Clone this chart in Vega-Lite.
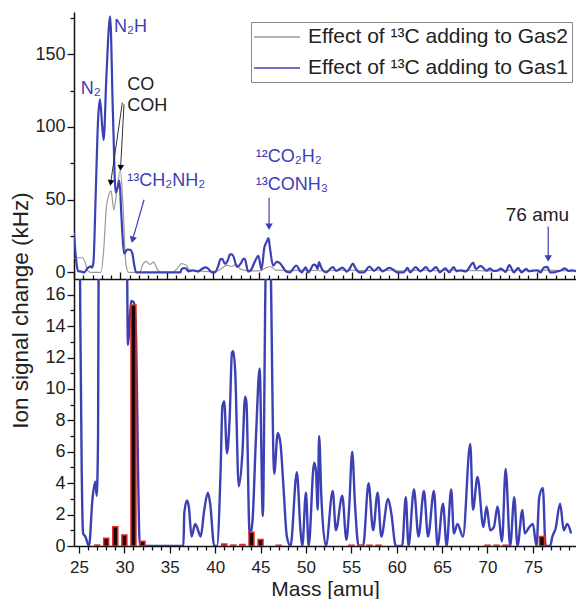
{
  "$schema": "https://vega.github.io/schema/vega-lite/v6.json",
  "padding": {"left": 9, "top": 12, "right": 0, "bottom": 0},
  "bounds": "flush",
  "spacing": 0,
  "datasets": {
    "gas1": [
      {"m":25,"v":27},{"m":25.15,"v":14},{"m":25.3,"v":4.8},{"m":25.45,"v":0.8},{"m":25.7,"v":0.6},{"m":26.1,"v":0},
      {"m":26.5,"v":3.1},{"m":26.8,"v":4.1},{"m":26.95,"v":3.2},{"m":27.1,"v":7},{"m":27.35,"v":55},{"m":27.6,"v":105},
      {"m":27.8,"v":119},{"m":28.05,"v":100},{"m":28.2,"v":91},{"m":28.5,"v":135},{"m":28.9,"v":176},{"m":29.2,"v":110},
      {"m":29.5,"v":55},{"m":29.7,"v":58},{"m":29.9,"v":63},{"m":30.15,"v":35},{"m":30.4,"v":12.8},{"m":30.55,"v":14},
      {"m":30.75,"v":15.6},{"m":31.05,"v":15.5},{"m":31.3,"v":13},{"m":31.5,"v":5},{"m":31.7,"v":0},{"m":36.5,"v":0},
      {"m":36.6,"v":2.1},{"m":36.9,"v":2.9},{"m":37.1,"v":2.5},{"m":37.4,"v":0.6},{"m":37.8,"v":1.4},{"m":38.0,"v":1.2},
      {"m":38.4,"v":0.6},{"m":38.8,"v":2.3},{"m":39.2,"v":3.4},{"m":39.45,"v":2.7},{"m":39.9,"v":0},{"m":40.2,"v":0},
      {"m":40.6,"v":4.8},{"m":40.8,"v":8.9},{"m":41.0,"v":9.2},{"m":41.3,"v":5.9},{"m":41.6,"v":8.2},{"m":41.85,"v":12.3},
      {"m":42.0,"v":12.4},{"m":42.2,"v":11.2},{"m":42.6,"v":3.8},{"m":43.0,"v":5.9},{"m":43.3,"v":9.5},{"m":43.45,"v":9.1},
      {"m":43.8,"v":0.6},{"m":44.1,"v":1.5},{"m":44.5,"v":7},{"m":44.9,"v":11.3},{"m":45.25,"v":1.9},{"m":45.55,"v":17},
      {"m":45.8,"v":21},{"m":46.0,"v":23.5},{"m":46.15,"v":17},{"m":46.5,"v":4.6},{"m":46.9,"v":7.2},{"m":47.2,"v":6.5},
      {"m":47.5,"v":4},{"m":47.9,"v":0.6},{"m":48.3,"v":0},{"m":49.0,"v":4.7},{"m":49.4,"v":1},{"m":49.6,"v":0},
      {"m":50.0,"v":3.4},{"m":50.3,"v":0},{"m":50.9,"v":5.3},{"m":51.1,"v":4.8},{"m":51.3,"v":2.3},{"m":51.45,"v":7},
      {"m":51.7,"v":3.1},{"m":52.2,"v":0},{"m":52.95,"v":3.5},{"m":53.3,"v":1},{"m":54.0,"v":3.2},{"m":54.46,"v":0.4},
      {"m":54.75,"v":2.3},{"m":55.1,"v":6},{"m":55.4,"v":2.7},{"m":55.8,"v":0},{"m":56.3,"v":0},{"m":56.9,"v":4},
      {"m":57.4,"v":1},{"m":57.9,"v":3.4},{"m":58.3,"v":0.6},{"m":59.05,"v":3},{"m":59.4,"v":2.1},{"m":59.9,"v":0},
      {"m":60.6,"v":0},{"m":61.0,"v":3.1},{"m":61.3,"v":0},{"m":61.9,"v":3.6},{"m":62.4,"v":0.6},{"m":63.0,"v":3.5},
      {"m":63.45,"v":0.6},{"m":64.1,"v":3.5},{"m":64.5,"v":0},{"m":65.1,"v":2.7},{"m":65.5,"v":0},{"m":66.0,"v":3.6},
      {"m":66.3,"v":0.8},{"m":66.7,"v":1.4},{"m":67.3,"v":0.6},{"m":68.1,"v":6.5},{"m":68.4,"v":2.3},{"m":68.9,"v":4.4},
      {"m":69.55,"v":1.2},{"m":69.9,"v":2.5},{"m":70.3,"v":1},{"m":70.7,"v":1.2},{"m":71.1,"v":2.5},{"m":71.6,"v":0.3},
      {"m":72.0,"v":4.9},{"m":72.5,"v":0},{"m":72.95,"v":3.1},{"m":73.3,"v":0},{"m":73.85,"v":2.3},{"m":74.1,"v":0.8},
      {"m":74.6,"v":1.2},{"m":75.0,"v":1.4},{"m":75.4,"v":0},{"m":75.7,"v":3.1},{"m":76.1,"v":3.7},{"m":76.4,"v":0},
      {"m":76.9,"v":0},{"m":77.15,"v":0.6},{"m":77.5,"v":1.1},{"m":78.0,"v":2.7},{"m":78.4,"v":1},{"m":78.8,"v":1.4},
      {"m":79.2,"v":0.8}
    ],
    "gas2": [
      {"m":25,"v":9.5},{"m":25.3,"v":10},{"m":25.9,"v":10},{"m":26.2,"v":7},{"m":26.5,"v":1},{"m":26.8,"v":0},
      {"m":27.9,"v":0},{"m":28.2,"v":15},{"m":28.5,"v":45},{"m":28.8,"v":54},{"m":29.0,"v":56},{"m":29.3,"v":43},
      {"m":29.6,"v":55},{"m":30.0,"v":70},{"m":30.3,"v":45},{"m":30.6,"v":6},{"m":30.9,"v":0},{"m":32.1,"v":0},
      {"m":32.4,"v":5},{"m":32.8,"v":7.5},{"m":33.2,"v":5.5},{"m":33.6,"v":7},{"m":34.0,"v":2},{"m":34.4,"v":0},
      {"m":35.6,"v":0},{"m":36.2,"v":3},{"m":36.6,"v":6},{"m":37.1,"v":5},{"m":37.5,"v":1.5},{"m":38.5,"v":1},
      {"m":39.5,"v":0.5},{"m":40.5,"v":1},{"m":41.0,"v":3},{"m":41.5,"v":5},{"m":42.0,"v":4},{"m":42.5,"v":5.5},
      {"m":43.0,"v":2},{"m":44.0,"v":1},{"m":45.0,"v":1},{"m":45.7,"v":3},{"m":46.2,"v":4},{"m":46.8,"v":1.5},
      {"m":48,"v":1.2},{"m":50,"v":1.5},{"m":52,"v":1},{"m":54,"v":1.5},{"m":56,"v":1.2},{"m":58,"v":1.5},
      {"m":60,"v":1},{"m":62,"v":1.3},{"m":64,"v":1.2},{"m":66,"v":1.5},{"m":68,"v":1.2},{"m":70,"v":1},
      {"m":72,"v":1.4},{"m":74,"v":1.2},{"m":76,"v":1.5},{"m":78,"v":1.2},{"m":79.2,"v":1.2}
    ],
    "bars": [
      {"m":27,"v":0.06},{"m":28,"v":0.5},{"m":29,"v":1.23},{"m":30,"v":0.7},{"m":31,"v":15.35},{"m":32,"v":0.3},
      {"m":41,"v":0.13},{"m":42,"v":0.06},{"m":43,"v":0.1},{"m":44,"v":0.87},{"m":45,"v":0.42},{"m":47,"v":0.05},
      {"m":55,"v":0.05},{"m":56,"v":0.05},{"m":57,"v":0.05},{"m":58,"v":0.05},{"m":70,"v":0.05},{"m":71,"v":0.05},
      {"m":72,"v":0.05},{"m":76,"v":0.6}
    ],
    "blueLabels": [
      {"m":25.72,"v":126,"t":"N₂"},
      {"m":29.32,"v":169,"t":"N₂H"},
      {"m":30.76,"v":63,"t":"¹³CH₂NH₂"},
      {"m":44.62,"v":79,"t":"¹²CO₂H₂"},
      {"m":44.62,"v":60,"t":"¹³CONH₃"}
    ],
    "blackLabels": [
      {"m":30.76,"v":128.6,"t":"CO"},
      {"m":30.76,"v":114.4,"t":"COH"}
    ],
    "amuLabel": [
      {"m":71.62,"v":39.5,"t":"76 amu"}
    ],
    "blueArrows": [
      {"m":32.56,"v":49.9,"m2":31.32,"v2":22.3},
      {"m":46.06,"v":51.3,"m2":46.06,"v2":31.3},
      {"m":76.2,"v":31.5,"m2":76.2,"v2":9.5}
    ],
    "blackArrows": [
      {"m":30.22,"v":116.7,"m2":28.96,"v2":61.5},
      {"m":30.4,"v":115.5,"m2":30.03,"v2":71.8}
    ]
  },
  "vconcat": [
    {
      "width": 502,
      "height": 267,
      "encoding": {
        "x": {"field":"m","type":"quantitative","scale":{"domain":[25,79.2],"nice":false,"zero":false},
          "axis":{"values":[25,26,27,28,29,30,31,32,33,34,35,36,37,38,39,40,41,42,43,44,45,46,47,48,49,50,51,52,53,54,55,56,57,58,59,60,61,62,63,64,65,66,67,68,69,70,71,72,73,74,75,76,77,78,79],
            "labels":false,"title":null,
            "tickSize":{"condition":{"test":"datum.value % 5 === 0","value":-7},"value":-4}}},
        "y": {"field":"v","type":"quantitative","scale":{"domain":[-4.6,179],"nice":false,"zero":false},
          "axis":{"values":[0,25,50,75,100,125,150,175],
            "labelExpr":"datum.value % 50 === 0 ? datum.label : ''",
            "tickSize":{"condition":{"test":"datum.value % 50 === 0","value":7},"value":4},
            "title":"Ion signal change (kHz)","titleX":-54,"titleY":298,"titleAngle":270,
            "titleAlign":"center","titleBaseline":"middle","titleFontSize":22.5,"titleFontWeight":"normal","titleColor":"#222"}}
      },
      "layer": [
        {"data":{"name":"gas2"},"mark":{"type":"line","strokeWidth":1.2,"interpolate":"monotone","clip":true},
         "encoding":{"color":{"datum":"Gas2","scale":{"domain":["Gas2","Gas1"],"range":["#9a9a9a","#3b40b5"]},
           "legend":{"orient":"none","legendX":177,"legendY":10,"title":null,
             "labelExpr":"'Effect of ¹³C adding to ' + datum.label",
             "labelFontSize":21,"labelColor":"#222","labelLimit":0,
             "symbolType":"M-2.3,0H2.3","symbolSize":400,"symbolStrokeWidth":1.6,"symbolOffset":11,
             "labelOffset":20,"padding":4,"rowPadding":10,"strokeColor":"#888","fillColor":"white"}}}},
        {"data":{"name":"gas1"},"mark":{"type":"line","strokeWidth":2.2,"interpolate":"monotone","clip":true},
         "encoding":{"color":{"datum":"Gas1"}}},
        {"data":{"name":"blackArrows"},"mark":{"type":"rule","color":"#333","strokeWidth":1},
         "encoding":{"x2":{"field":"m2"},"y2":{"field":"v2"}}},
        {"data":{"name":"blueArrows"},"mark":{"type":"rule","color":"#3b40b5","strokeWidth":1.2},
         "encoding":{"x2":{"field":"m2"},"y2":{"field":"v2"}}},
        {"data":{"values":[{"m":28.96,"v":61.5}]},"mark":{"type":"point","shape":"triangle-down","filled":true,"size":45,"angle":8,"color":"black","opacity":1},"encoding":{}},
        {"data":{"values":[{"m":30.03,"v":71.8}]},"mark":{"type":"point","shape":"triangle-down","filled":true,"size":45,"angle":5,"color":"black","opacity":1},"encoding":{}},
        {"data":{"values":[{"m":31.32,"v":22.3}]},"mark":{"type":"point","shape":"triangle-down","filled":true,"size":55,"angle":14,"color":"#3b40b5","opacity":1},"encoding":{}},
        {"data":{"values":[{"m":46.06,"v":31.3},{"m":76.2,"v":9.5}]},"mark":{"type":"point","shape":"triangle-down","filled":true,"size":55,"color":"#3b40b5","opacity":1},"encoding":{}},
        {"data":{"name":"blueLabels"},"mark":{"type":"text","align":"left","baseline":"middle","fontSize":18,"color":"#3b40b5"},
         "encoding":{"text":{"field":"t"}}},
        {"data":{"name":"blackLabels"},"mark":{"type":"text","align":"left","baseline":"middle","fontSize":18,"color":"#222"},
         "encoding":{"text":{"field":"t"}}},
        {"data":{"name":"amuLabel"},"mark":{"type":"text","align":"left","baseline":"middle","fontSize":19,"color":"#222"},
         "encoding":{"text":{"field":"t"}}}
      ]
    },
    {
      "width": 502,
      "height": 267,
      "encoding": {
        "x": {"field":"m","type":"quantitative","scale":{"domain":[25,79.2],"nice":false,"zero":false},
          "axis":{"values":[25,26,27,28,29,30,31,32,33,34,35,36,37,38,39,40,41,42,43,44,45,46,47,48,49,50,51,52,53,54,55,56,57,58,59,60,61,62,63,64,65,66,67,68,69,70,71,72,73,74,75,76,77,78,79],
            "labelExpr":"datum.value % 5 === 0 ? datum.label : ''",
            "tickSize":{"condition":{"test":"datum.value % 5 === 0","value":7},"value":4},
            "labelPadding":6,"labelFontSize":17,
            "title":"Mass [amu]","titleFontSize":21,"titleFontWeight":"normal","titleColor":"#222","titlePadding":3}},
        "y": {"field":"v","type":"quantitative","scale":{"domain":[0,17],"nice":false,"zero":false},
          "axis":{"values":[0,1,2,3,4,5,6,7,8,9,10,11,12,13,14,15,16],
            "labelExpr":"datum.value % 2 === 0 ? datum.label : ''",
            "tickSize":{"condition":{"test":"datum.value % 2 === 0","value":7},"value":4},
            "title":null}}
      },
      "layer": [
        {"data":{"name":"gas1"},"mark":{"type":"line","strokeWidth":2.4,"interpolate":"monotone","clip":true,"color":"#3b40b5"}},
        {"data":{"name":"bars"},"mark":{"type":"bar","size":5,"fill":"#1a0404","stroke":"#e32a2a","strokeWidth":1.5,"clip":true}}
      ]
    }
  ],
  "resolve": {"scale": {"x": "independent", "y": "independent"}},
  "config": {
    "font": "Liberation Sans, DejaVu Sans, sans-serif",
    "view": {"stroke": null},
    "axis": {"grid": false, "domainColor": "#111", "domainWidth": 1.5, "tickColor": "#111", "tickWidth": 1.3,
      "labelFontSize": 18, "labelColor": "#222", "labelFont": "Liberation Sans, DejaVu Sans, sans-serif",
      "titleFont": "Liberation Sans, DejaVu Sans, sans-serif"}
  }
}
